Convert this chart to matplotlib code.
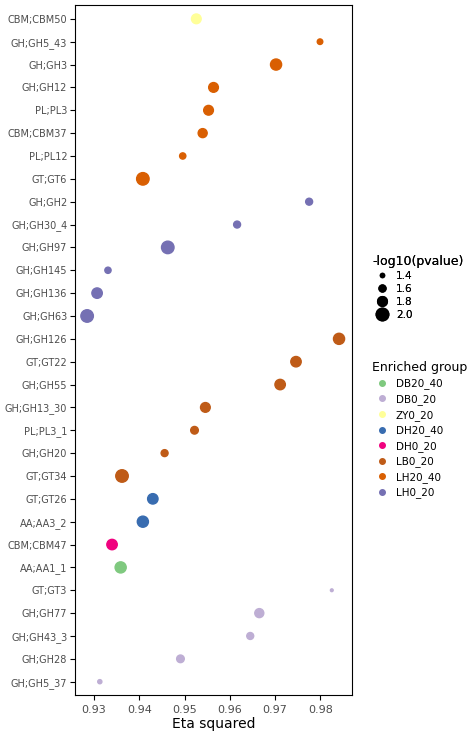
import matplotlib
matplotlib.use("Agg")
import matplotlib.pyplot as plt
from matplotlib.lines import Line2D

# top to bottom
labels = ["CBM;CBM50", "GH;GH5_43", "GH;GH3", "GH;GH12", "PL;PL3", "CBM;CBM37", "PL;PL12",
          "GT;GT6", "GH;GH2", "GH;GH30_4", "GH;GH97", "GH;GH145", "GH;GH136", "GH;GH63",
          "GH;GH126", "GT;GT22", "GH;GH55", "GH;GH13_30", "PL;PL3_1", "GH;GH20", "GT;GT34",
          "GT;GT26", "AA;AA3_2", "CBM;CBM47", "AA;AA1_1", "GT;GT3", "GH;GH77", "GH;GH43_3",
          "GH;GH28", "GH;GH5_37"]
eta = [0.9526, 0.9799, 0.9702, 0.9564, 0.9553, 0.9540, 0.9496,
       0.9408, 0.9775, 0.9616, 0.9463, 0.9331, 0.9307, 0.9285,
       0.9841, 0.9746, 0.9711, 0.9546, 0.9522, 0.9456, 0.9362,
       0.9430, 0.9408, 0.9340, 0.9359, 0.9825, 0.9665, 0.9645,
       0.9491, 0.9313]
logp = [1.8, 1.5, 1.9, 1.8, 1.8, 1.75, 1.55,
        2.0, 1.6, 1.6, 2.0, 1.55, 1.85, 2.0,
        1.9, 1.85, 1.85, 1.8, 1.65, 1.6, 2.0,
        1.85, 1.9, 1.85, 1.9, 1.3, 1.75, 1.6,
        1.65, 1.4]
group = ["ZY0_20"] + ["LH20_40"] * 7 + ["LH0_20"] * 6 + ["LB0_20"] * 7 + \
        ["DH20_40"] * 2 + ["DH0_20", "DB20_40"] + ["DB0_20"] * 5

group_order = ["DB20_40", "DB0_20", "ZY0_20", "DH20_40", "DH0_20", "LB0_20", "LH20_40", "LH0_20"]
colors = {"DB20_40": "#7fc97f", "DB0_20": "#beaed4", "ZY0_20": "#ffff99", "DH20_40": "#386cb0",
          "DH0_20": "#f0027f", "LB0_20": "#bf5b17", "LH20_40": "#d95f02", "LH0_20": "#7570b3"}
size_breaks = [1.4, 1.6, 1.8, 2.0]


def diam(v):
    return 3.0 + (v - 1.4) / 0.6 * 6.0


fig = plt.figure(figsize=(4.74, 7.32), dpi=100)
ax = fig.add_axes([0.158, 0.05, 0.585, 0.943])
n = len(labels)
ys = [n - 1 - i for i in range(n)]
ax.scatter(eta, ys, s=[diam(v) ** 2 for v in logp], c=[colors[g] for g in group], zorder=3)
ax.set_yticks(ys)
ax.set_yticklabels(labels, fontsize=7, color="#4d4d4d")
ax.set_ylim(-0.6, n - 0.4)
ax.set_xlim(0.9258, 0.987)
ax.set_xticks([0.93, 0.94, 0.95, 0.96, 0.97, 0.98])
ax.set_xticklabels(["0.93", "0.94", "0.95", "0.96", "0.97", "0.98"])
ax.tick_params(axis="x", labelsize=8, labelcolor="#4d4d4d")
ax.tick_params(axis="y", pad=2)
ax.set_xlabel("Eta squared", fontsize=10, labelpad=1)

h1 = [Line2D([], [], ls="", marker="o", color="black", markersize=diam(v)) for v in size_breaks]
leg1 = fig.legend(h1, [str(v) for v in size_breaks], title="-log10(pvalue)", loc="upper left",
                  bbox_to_anchor=(0.765, 0.665), frameon=False, fontsize=7.5, title_fontsize=9,
                  alignment="left", handletextpad=0.3, labelspacing=0.3)
h2 = [Line2D([], [], ls="", marker="o", color=colors[g], markersize=4) for g in group_order]
fig.legend(h2, group_order, title="Enriched group", loc="upper left",
           bbox_to_anchor=(0.765, 0.52), frameon=False, fontsize=7.5, title_fontsize=9,
           alignment="left", handletextpad=0.3, labelspacing=0.45)
fig.add_artist(leg1)
fig.savefig("out.png", dpi=100)
